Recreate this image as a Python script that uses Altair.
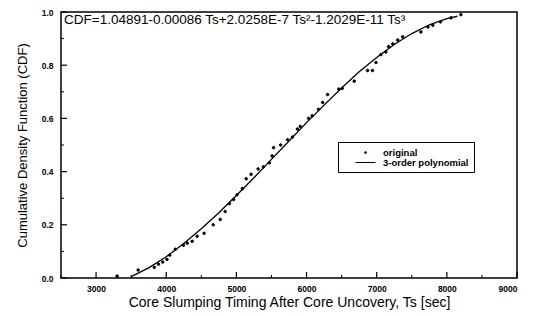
import altair as alt
import pandas as pd

# ---- data ----
ts_original = [3300, 3600, 3830, 3890, 3950, 4010, 4050, 4130, 4245, 4300, 4370, 4440, 4540,
               4670, 4770, 4840, 4900, 4960, 5010, 5085, 5140, 5210, 5310, 5385, 5470, 5510,
               5530, 5630, 5730, 5800, 5870, 5910, 6030, 6080, 6170, 6230, 6300, 6460, 6510,
               6680, 6870, 6940, 6990, 7060, 7130, 7170, 7230, 7300, 7370, 7630, 7730, 7800,
               7910, 8060, 8200]
cdf_original = [0.007, 0.030, 0.040, 0.052, 0.060, 0.070, 0.086, 0.108, 0.123, 0.131, 0.138, 0.157, 0.168,
                0.200, 0.220, 0.250, 0.280, 0.295, 0.313, 0.336, 0.373, 0.390, 0.410, 0.418, 0.433, 0.459,
                0.490, 0.500, 0.520, 0.530, 0.560, 0.570, 0.600, 0.610, 0.634, 0.660, 0.690, 0.710, 0.713,
                0.740, 0.780, 0.780, 0.810, 0.840, 0.850, 0.870, 0.880, 0.895, 0.907, 0.925, 0.944, 0.950,
                0.963, 0.978, 0.990]

ts_fit = [3500, 3750, 4000, 4250, 4500, 4750, 5000, 5250, 5500, 5750, 6000, 6250, 6500,
          6750, 7000, 7250, 7500, 7750, 8000, 8150]
cdf_fit = [0.005, 0.038, 0.080, 0.130, 0.185, 0.245, 0.310, 0.377, 0.446, 0.515, 0.584, 0.650, 0.714,
           0.775, 0.829, 0.878, 0.919, 0.952, 0.975, 0.984]

series_names = ["original", "3-order polynomial"]
x_ticks = [3000, 4000, 5000, 6000, 7000, 8000, 9000]
x_minor = [2500, 3500, 4500, 5500, 6500, 7500, 8500]
y_ticks = [0.0, 0.2, 0.4, 0.6, 0.8, 1.0]
y_minor = [0.1, 0.3, 0.5, 0.7, 0.9]
equation = ["CDF=1.04891-0.00086 Ts+2.0258E-7 Ts\u00b2-1.2029E-11 Ts\u00b3"]

FONT = "Liberation Sans"
DOT = "M0,-0.26A0.26,0.26 0 1,1 0,0.26A0.26,0.26 0 1,1 0,-0.26Z"
LINE = "M-2,-0.1H2V0.1H-2Z"

df_pts = pd.DataFrame({"Ts": ts_original, "CDF": cdf_original, "Series": series_names[0]})
df_fit = pd.DataFrame({"Ts": ts_fit, "CDF": cdf_fit, "Series": series_names[1]})

xscale = alt.Scale(domain=[2500, 9000], nice=False, zero=False)
yscale = alt.Scale(domain=[0, 1], nice=False)

W, H = 456, 266

x_axis = alt.Axis(values=x_ticks, format="d", ticks=False, domain=False, grid=False,
                  labelFont=FONT, labelFontSize=8.5, labelFontWeight="bold", labelPadding=6,
                  title="Core Slumping Timing After Core Uncovery, Ts [sec]",
                  titleFont=FONT, titleFontSize=14, titleFontWeight="normal", titlePadding=3,
                  labelColor="black", titleColor="black")
y_axis = alt.Axis(values=y_ticks, format=".1f", ticks=False, domain=False, grid=False,
                  labelFont=FONT, labelFontSize=8.5, labelFontWeight="bold", labelPadding=8,
                  title="Cumulative Density Function (CDF)",
                  titleFont=FONT, titleFontSize=13, titleFontWeight="normal", titlePadding=12,
                  labelColor="black", titleColor="black")

points = alt.Chart(df_pts).mark_point(filled=False, fill="black", stroke="black", strokeWidth=1,
                                      size=100, opacity=1).encode(
    x=alt.X("Ts:Q", scale=xscale, axis=x_axis),
    y=alt.Y("CDF:Q", scale=yscale, axis=y_axis),
    shape=alt.Shape("Series:N",
                    scale=alt.Scale(domain=series_names, range=[DOT, LINE]),
                    legend=alt.Legend(title=None, orient="none", legendX=277, legendY=130,
                                      strokeColor="black", padding=5,
                                      symbolOffset=17, labelOffset=12, symbolSize=100,
                                      symbolFillColor="black", symbolStrokeColor="black",
                                      symbolStrokeWidth=0.6, rowPadding=0,
                                      labelFont=FONT, labelFontSize=9.5, labelFontWeight="bold",
                                      labelColor="black")),
)

fit = alt.Chart(df_fit).mark_line(color="black", strokeWidth=1.3).encode(
    x=alt.X("Ts:Q", scale=xscale),
    y=alt.Y("CDF:Q", scale=yscale),
)

xt = alt.Chart(pd.DataFrame({"v": x_ticks})).mark_rule(color="black", strokeWidth=1.2).encode(
    x=alt.X("v:Q", scale=xscale), y=alt.value(H), y2=alt.value(H - 6))
xm = alt.Chart(pd.DataFrame({"v": x_minor})).mark_rule(color="black", strokeWidth=1).encode(
    x=alt.X("v:Q", scale=xscale), y=alt.value(H), y2=alt.value(H - 3))
yt = alt.Chart(pd.DataFrame({"v": y_ticks})).mark_rule(color="black", strokeWidth=1.2).encode(
    y=alt.Y("v:Q", scale=yscale), x=alt.value(0), x2=alt.value(6))
ym = alt.Chart(pd.DataFrame({"v": y_minor})).mark_rule(color="black", strokeWidth=1).encode(
    y=alt.Y("v:Q", scale=yscale), x=alt.value(0), x2=alt.value(3))

eq = alt.Chart(pd.DataFrame({"t": equation})).mark_text(
    align="left", baseline="alphabetic", font=FONT, fontSize=13.5, color="black").encode(
    text="t:N", x=alt.value(3), y=alt.value(12))

chart = alt.layer(fit, points, xt, xm, yt, ym, eq).properties(
    width=W, height=H,
    padding={"left": 53, "top": 4, "right": 11, "bottom": 38},
    autosize=alt.AutoSizeParams(type="none"),
    background="white",
).configure_view(stroke="black", strokeWidth=1.5).configure_legend(strokeWidth=1)

chart.save("out.html", embed_options={"renderer": "svg", "actions": False})
